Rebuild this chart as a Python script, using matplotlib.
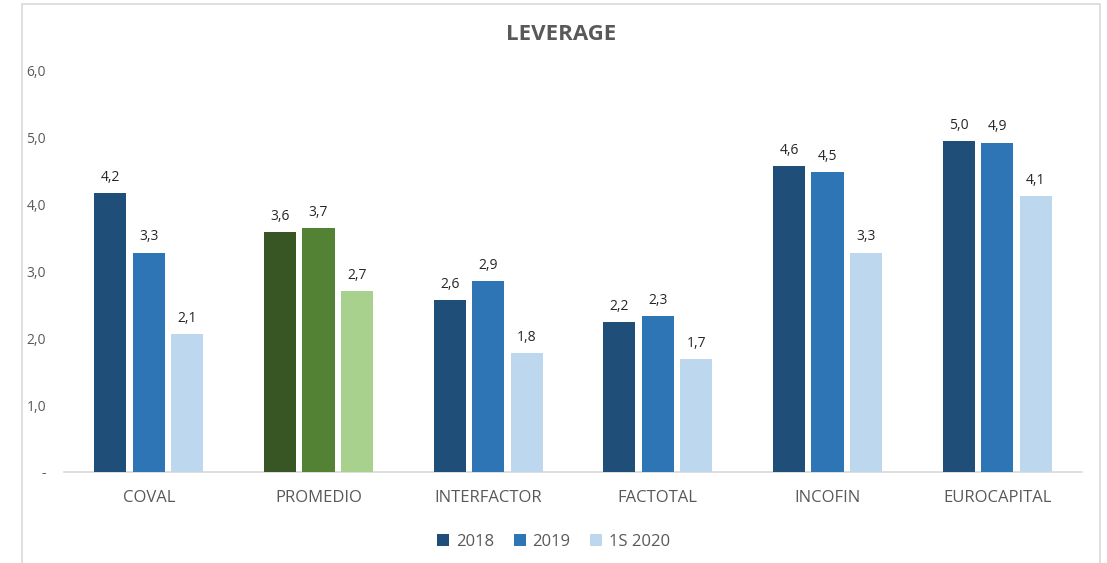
import numpy as np
import matplotlib.pyplot as plt
from matplotlib.patches import Rectangle, Patch
from matplotlib.ticker import FixedLocator, FuncFormatter

categories = ["COVAL", "PROMEDIO", "INTERFACTOR", "FACTOTAL", "INCOFIN", "EUROCAPITAL"]
series_names = ["2018", "2019", "1S 2020"]
v2018 = [4.17, 3.59, 2.57, 2.24, 4.58, 4.95]
v2019 = [3.28, 3.65, 2.86, 2.33, 4.49, 4.93]
v2020 = [2.06, 2.71, 1.78, 1.69, 3.28, 4.13]
label2018 = ["4,2", "3,6", "2,6", "2,2", "4,6", "5,0"]
label2019 = ["3,3", "3,7", "2,9", "2,3", "4,5", "4,9"]
label2020 = ["2,1", "2,7", "1,8", "1,7", "3,3", "4,1"]

blues = ["#1F4E79", "#2E75B6", "#BDD7EE"]
greens = ["#375623", "#548235", "#A9D18E"]
highlight = "PROMEDIO"

plt.rcParams["font.family"] = ["Open Sans", "DejaVu Sans"]

fig = plt.figure(figsize=(11.07, 5.63), dpi=100)
# marco del gráfico
fig.patches.append(Rectangle((22 / 1107, -0.05), 1078 / 1107, 1.05 - 4 / 563,
                             transform=fig.transFigure, fill=False,
                             edgecolor="#D9D9D9", linewidth=1.2))

ax = fig.add_axes([64 / 1107, 91 / 563, 1018 / 1107, 401 / 563])

x = np.arange(len(categories))
width = 0.19
step = 0.227
all_vals = [v2018, v2019, v2020]
all_labels = [label2018, label2019, label2020]

for i, (vals, labs) in enumerate(zip(all_vals, all_labels)):
    pos = x + (i - 1) * step
    colors = [greens[i] if c == highlight else blues[i] for c in categories]
    bars = ax.bar(pos, vals, width=width, color=colors, zorder=3)
    for b, lab in zip(bars, labs):
        ax.annotate(lab, (b.get_x() + b.get_width() / 2, b.get_height()),
                    xytext=(0, 6), textcoords="offset points",
                    ha="center", va="bottom", fontsize=10, color="#262626")

ax.set_xlim(-0.5, len(categories) - 0.5)
ax.set_ylim(0, 6)
ax.yaxis.set_major_locator(FixedLocator([0, 1, 2, 3, 4, 5, 6]))
ax.yaxis.set_major_formatter(FuncFormatter(
    lambda v, p: "-" if v == 0 else f"{v:.1f}".replace(".", ",")))
ax.set_xticks(x)
ax.set_xticklabels(categories, fontsize=12, color="#595959")
ax.tick_params(axis="y", length=0, labelsize=10, labelcolor="#595959", pad=13)
ax.tick_params(axis="x", length=0, pad=13)

for s in ["top", "right", "left"]:
    ax.spines[s].set_visible(False)
ax.spines["bottom"].set_color("#D9D9D9")
ax.spines["bottom"].set_linewidth(1.2)

fig.text(561 / 1107, 1 - 35 / 563, "LEVERAGE", ha="center", va="center",
         fontsize=16, fontweight="bold", color="#595959")

handles = [Patch(facecolor=c) for c in blues]
fig.legend(handles, series_names, loc="center", bbox_to_anchor=(0.5, 1 - 542 / 563),
           ncol=3, frameon=False, fontsize=12, labelcolor="#595959",
           handlelength=0.7, handleheight=0.7, handletextpad=0.4, columnspacing=1.2)

plt.savefig("out.png", dpi=100)
